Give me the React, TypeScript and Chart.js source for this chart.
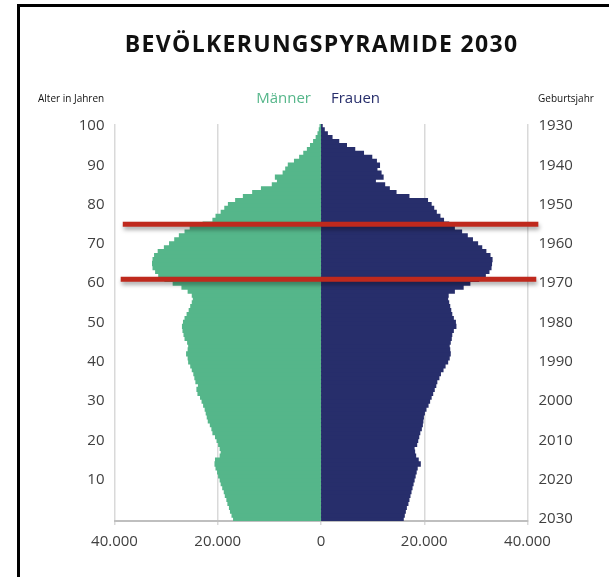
import React, { useEffect, useRef } from 'react';
import { Chart, registerables } from 'chart.js';

Chart.register(...registerables);

// ---- Data -------------------------------------------------------------
const ages = [
  0, 1, 2, 3, 4, 5, 6, 7, 8, 9,
  10, 11, 12, 13, 14, 15, 16, 17, 18, 19,
  20, 21, 22, 23, 24, 25, 26, 27, 28, 29,
  30, 31, 32, 33, 34, 35, 36, 37, 38, 39,
  40, 41, 42, 43, 44, 45, 46, 47, 48, 49,
  50, 51, 52, 53, 54, 55, 56, 57, 58, 59,
  60, 61, 62, 63, 64, 65, 66, 67, 68, 69,
  70, 71, 72, 73, 74, 75, 76, 77, 78, 79,
  80, 81, 82, 83, 84, 85, 86, 87, 88, 89,
  90, 91, 92, 93, 94, 95, 96, 97, 98, 99,
  100,
];

const maenner = [
  16900, 17200, 17500, 17700, 18000, 18200, 18500, 18700, 19000, 19300,
  19500, 19800, 20000, 20300, 20500, 20400, 19500, 19300, 19500, 19800,
  20100, 20400, 20900, 21100, 21400, 21800, 22000, 22200, 22400, 22700,
  23000, 23300, 23800, 24000, 23700, 24200, 24400, 24600, 24900, 25200,
  25600, 25700, 26000, 25700, 25600, 25800, 26300, 26500, 26700, 26800,
  26600, 26300, 25900, 25500, 25200, 24900, 24700, 24900, 25700, 26900,
  28600, 30200, 31400, 32000, 32500, 32600, 32500, 32200, 31500, 30300,
  29300, 28300, 27400, 26300, 25300, 22800, 20900, 20300, 19300, 18600,
  17900, 16500, 15000, 13200, 11500, 9400, 8400, 8800, 7300, 6800,
  6300, 5100, 4100, 3300, 2600, 2000, 1400, 900, 550, 300,
  150,
];

const frauen = [
  15900, 16100, 16300, 16500, 16800, 17000, 17200, 17400, 17600, 17800,
  18000, 18200, 18400, 18600, 19200, 18800, 18300, 18100, 18000, 18500,
  18700, 18900, 19100, 19400, 19600, 19700, 19800, 20000, 20300, 20700,
  21000, 21300, 21600, 21900, 22200, 22400, 22800, 23100, 23600, 24000,
  24500, 24800, 25000, 24900, 24800, 25000, 25200, 25300, 25600, 26100,
  26000, 25600, 25300, 25100, 24900, 24700, 24500, 24600, 25800, 27500,
  28800, 30500, 31800, 32500, 32900, 33000, 33100, 32700, 31900, 31100,
  30300, 29300, 28300, 27200, 25800, 24700, 23700, 23000, 22300, 21800,
  21300, 20600, 17000, 14500, 13200, 12300, 10500, 12000, 11600, 10800,
  11300, 10700, 9800, 8200, 6500, 4900, 3400, 2100, 1200, 600,
  200,
];

const ageTicks = [10, 20, 30, 40, 50, 60, 70, 80, 90, 100];
const yearTicks = [1930, 1940, 1950, 1960, 1970, 1980, 1990, 2000, 2010, 2020, 2030];
const xTicks = [-40000, -20000, 0, 20000, 40000];
const baseYear = 2030;

const markerAges = [75, 61];
const markerFrom = [-38400, -38800];
const markerTo = [42100, 41700];

const titleText = 'BEVÖLKERUNGSPYRAMIDE 2030';
const seriesNames = ['Männer', 'Frauen'];
const leftCaption = 'Alter in Jahren';
const rightCaption = 'Geburtsjahr';

// ---- Styles -----------------------------------------------------------
const GREEN = '#55b68a';
const NAVY = '#272e6b';
const RED = '#bf291d';
const FONT = '"Open Sans", "DejaVu Sans", sans-serif';
const TICK_COLOR = '#404040';

const fmt = (v: number) =>
  String(Math.abs(v)).replace(/\B(?=(\d{3})+(?!\d))/g, '.');

const decorPlugin = {
  id: 'decor',
  beforeDraw(chart: any) {
    const ctx = chart.ctx;
    ctx.save();
    ctx.fillStyle = '#ffffff';
    ctx.fillRect(0, 0, chart.width, chart.height);
    ctx.fillStyle = '#000000';
    ctx.fillRect(17, 4, 3, chart.height);
    ctx.fillRect(17, 4, chart.width, 3);
    ctx.restore();
  },
  afterDatasetsDraw(chart: any) {
    const ctx = chart.ctx;
    const xs = chart.scales.x;
    const ys = chart.scales.y;
    ctx.save();
    markerAges.forEach((age, i) => {
      const idx = ages.indexOf(age);
      const y = ys.getPixelForValue(idx);
      const x1 = xs.getPixelForValue(markerFrom[i]);
      const x2 = xs.getPixelForValue(markerTo[i]);
      ctx.shadowColor = 'rgba(0,0,0,0.35)';
      ctx.shadowBlur = 4;
      ctx.shadowOffsetX = 1;
      ctx.shadowOffsetY = 3;
      ctx.fillStyle = RED;
      ctx.fillRect(x1, y - 2.5, x2 - x1, 5);
    });
    ctx.restore();
  },
  afterDraw(chart: any) {
    const ctx = chart.ctx;
    const area = chart.chartArea;
    const cx = (area.left + area.right) / 2;
    ctx.save();
    // Title
    ctx.fillStyle = '#111111';
    ctx.textAlign = 'center';
    ctx.textBaseline = 'middle';
    ctx.font = `bold 23px ${FONT}`;
    try { (ctx as any).letterSpacing = '1.3px'; } catch (e) { /* ignore */ }
    ctx.fillText(titleText, cx + 0.6, 45);
    try { (ctx as any).letterSpacing = '0px'; } catch (e) { /* ignore */ }
    // Legend-like series names
    ctx.font = `15px ${FONT}`;
    ctx.textAlign = 'right';
    ctx.fillStyle = GREEN;
    ctx.fillText(seriesNames[0], cx - 10, 99);
    ctx.textAlign = 'left';
    ctx.fillStyle = NAVY;
    ctx.fillText(seriesNames[1], cx + 10, 99);
    // Axis captions
    ctx.fillStyle = '#111111';
    ctx.font = `10px ${FONT}`;
    ctx.textAlign = 'left';
    ctx.fillText(leftCaption, 38, 99);
    ctx.fillText(rightCaption, 538, 99);
    ctx.restore();
  },
};

export default function App() {
  const canvasRef = useRef<HTMLCanvasElement | null>(null);

  useEffect(() => {
    const canvas = canvasRef.current;
    if (!canvas) return;
    const chart = new Chart(canvas, {
      type: 'bar',
      data: {
        labels: ages,
        datasets: [
          {
            label: seriesNames[0],
            data: maenner.map((v) => -v),
            backgroundColor: GREEN,
            borderWidth: 0,
            inflateAmount: 0.7,
            barPercentage: 1,
            categoryPercentage: 1,
            xAxisID: 'x',
            yAxisID: 'y',
          },
          {
            label: seriesNames[1],
            data: frauen,
            backgroundColor: NAVY,
            borderWidth: 0,
            inflateAmount: 0.7,
            barPercentage: 1,
            categoryPercentage: 1,
            xAxisID: 'x',
            yAxisID: 'y',
          },
        ],
      },
      options: {
        indexAxis: 'y',
        responsive: false,
        animation: false,
        layout: { padding: { top: 124, left: 31, right: 0, bottom: 0 } },
        plugins: {
          legend: { display: false },
          title: { display: false },
          tooltip: { enabled: false },
        },
        scales: {
          x: {
            type: 'linear',
            stacked: true,
            min: -40000,
            max: 40000,
            afterBuildTicks: (s: any) => {
              s.ticks = xTicks.map((v) => ({ value: v }));
            },
            afterFit: (s: any) => {
              s.height = 56;
            },
            ticks: {
              callback: (v: any) => fmt(Number(v)),
              font: { family: FONT, size: 15 },
              color: TICK_COLOR,
              padding: 8,
              maxRotation: 0,
            },
            grid: { color: '#d9d9d9', lineWidth: 1.5, tickLength: 4 },
            border: { color: '#bfbfbf', width: 2 },
          },
          y: {
            type: 'category',
            stacked: true,
            reverse: true,
            offset: true,
            afterFit: (s: any) => {
              s.width = 83.5;
            },
            grid: { display: false, drawTicks: false },
            border: { display: false },
            ticks: {
              autoSkip: false,
              padding: 10,
              font: { family: FONT, size: 15 },
              color: TICK_COLOR,
              callback: (_v: any, i: number) =>
                ageTicks.includes(ages[i]) ? String(ages[i]) : null,
            },
          },
          y2: {
            type: 'category',
            position: 'right',
            reverse: true,
            offset: true,
            afterFit: (s: any) => {
              s.width = 81.5;
            },
            grid: { display: false, drawTicks: false },
            border: { display: false },
            ticks: {
              autoSkip: false,
              padding: 11,
              font: { family: FONT, size: 15 },
              color: TICK_COLOR,
              callback: (_v: any, i: number) =>
                yearTicks.includes(baseYear - ages[i]) ? String(baseYear - ages[i]) : null,
            },
          },
        },
      } as any,
      plugins: [decorPlugin],
    });
    return () => chart.destroy();
  }, []);

  return (
    <div style={{ position: 'fixed', left: 0, top: 0, width: 609, height: 577, background: '#fff' }}>
      <canvas ref={canvasRef} width={609} height={577} style={{ display: 'block', width: 609, height: 577 }} />
    </div>
  );
}
